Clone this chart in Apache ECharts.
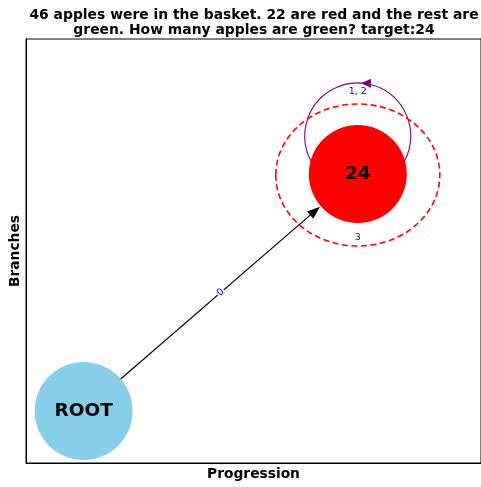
<!DOCTYPE html>
<html>
<head>
<meta charset="utf-8">
<script src="https://cdn.jsdelivr.net/npm/echarts@6/dist/echarts.min.js"></script>
<style>html,body{margin:0;padding:0;background:#fff}#c{width:481px;height:487px}</style>
</head>
<body>
<div id="c"></div>
<script>
// ---- data ----
const titleLines = ['46 apples were in the basket. 22 are red and the rest are', 'green. How many apples are green? target:24'];
const nodeNames = ['ROOT', '24'];
const nodeX = [0, 1];
const nodeY = [0, 1];
const edgeSource = [0];
const edgeTarget = [1];
const edgeLabels = ['0'];
const loopNodes = [1];
const loopLabels = ['1, 2'];
const ringNodes = [1];
const ringLabels = ['3'];
const xAxisName = 'Progression';
const yAxisName = 'Branches';

// ---- styles ----
const nodeColors = ['#87CEEB', '#FF0000'];
const NODE_R = 49;
const FONT = 'DejaVu Sans';

const chart = echarts.init(document.getElementById('c'), null, {renderer: 'canvas'});

const edgeData = edgeSource.map((s, i) => [nodeX[s], nodeY[s], nodeX[edgeTarget[i]], nodeY[edgeTarget[i]], i]);
const loopData = loopNodes.map((n, i) => [nodeX[n], nodeY[n], i]);
const ringData = ringNodes.map((n, i) => [nodeX[n], nodeY[n], i]);

function renderEdge(params, api) {
  const p0 = api.coord([api.value(0), api.value(1)]);
  const p1 = api.coord([api.value(2), api.value(3)]);
  const i = api.value(4);
  const dx = p1[0] - p0[0], dy = p1[1] - p0[1];
  const L = Math.sqrt(dx * dx + dy * dy);
  const ux = dx / L, uy = dy / L;
  const start = [p0[0] + ux * NODE_R, p0[1] + uy * NODE_R];
  const tip = [p1[0] - ux * (NODE_R + 1), p1[1] - uy * (NODE_R + 1)];
  const AL = 13, AW = 4.8;
  const base = [tip[0] - ux * AL, tip[1] - uy * AL];
  const px = -uy, py = ux;
  const mid = [(p0[0] + p1[0]) / 2, (p0[1] + p1[1]) / 2];
  return {
    type: 'group',
    children: [
      {type: 'line', shape: {x1: start[0], y1: start[1], x2: base[0] + ux * 2, y2: base[1] + uy * 2}, style: {stroke: '#000', lineWidth: 1.2}},
      {type: 'polygon', shape: {points: [tip, [base[0] + px * AW, base[1] + py * AW], [base[0] - px * AW, base[1] - py * AW]]}, style: {fill: '#000'}},
      {type: 'text', x: mid[0], y: mid[1], rotation: Math.atan2(-dy, dx),
        style: {text: edgeLabels[i], fill: '#0000ff', font: '9.5px "' + FONT + '"', align: 'center', verticalAlign: 'middle', backgroundColor: '#fff', padding: [0, 1]}}
    ]
  };
}

function renderLoop(params, api) {
  const c = api.coord([api.value(0), api.value(1)]);
  const i = api.value(2);
  const cx = c[0], cy = c[1] - 38, r = 53;
  const ang = -85.5 * Math.PI / 180;
  const tip = [cx + r * Math.cos(ang), cy + r * Math.sin(ang)];
  return {
    type: 'group',
    children: [
      {type: 'arc', shape: {cx: cx, cy: cy, r: r, startAngle: 150 * Math.PI / 180, endAngle: 390 * Math.PI / 180, clockwise: true}, style: {stroke: '#800080', lineWidth: 1.1, fill: null}},
      {type: 'polygon', shape: {points: [[tip[0] - 1, tip[1]], [tip[0] + 9, tip[1] - 4.5], [tip[0] + 9, tip[1] + 4.5]]}, style: {fill: '#800080'}},
      {type: 'text', x: c[0], y: c[1] - 82, style: {text: loopLabels[i], fill: '#0000ff', font: '9.5px "' + FONT + '"', align: 'center', verticalAlign: 'middle'}}
    ]
  };
}

function renderRing(params, api) {
  const c = api.coord([api.value(0), api.value(1)]);
  const i = api.value(2);
  return {
    type: 'group',
    children: [
      {type: 'ellipse', shape: {cx: c[0], cy: c[1] + 1, rx: 82, ry: 71}, style: {stroke: '#ff0000', lineWidth: 1.6, lineDash: [6, 3.5], fill: null}},
      {type: 'text', x: c[0], y: c[1] + 64, style: {text: ringLabels[i], fill: '#0000ff', font: '9.5px "' + FONT + '"', align: 'center', verticalAlign: 'middle'}}
    ]
  };
}

const option = {
  backgroundColor: '#fff',
  animation: false,
  graphic: titleLines.map((t, k) => ({
    type: 'text', x: 254, y: 15.5 + k * 15,
    style: {text: t, fill: '#000', font: 'bold 13.9px "' + FONT + '"', align: 'center', verticalAlign: 'middle'}
  })),
  grid: {left: 25, top: 39, width: 458, height: 424, show: true, borderColor: '#000', borderWidth: 1, backgroundColor: 'transparent'},
  xAxis: {
    type: 'value', min: -0.2101, max: 1.4493,
    name: xAxisName, nameLocation: 'middle', nameGap: 4,
    nameTextStyle: {fontFamily: FONT, fontWeight: 'bold', fontSize: 13.8, color: '#000', verticalAlign: 'top'},
    axisLine: {show: true, onZero: false, lineStyle: {color: '#000'}}, axisTick: {show: false}, axisLabel: {show: false}, splitLine: {show: false}
  },
  yAxis: {
    type: 'value', min: -0.2194, max: 1.5696,
    name: yAxisName, nameLocation: 'middle', nameGap: 4,
    nameTextStyle: {fontFamily: FONT, fontWeight: 'bold', fontSize: 13.8, color: '#000', verticalAlign: 'bottom'},
    axisLine: {show: true, onZero: false, lineStyle: {color: '#000'}}, axisTick: {show: false}, axisLabel: {show: false}, splitLine: {show: false}
  },
  series: [
    {type: 'custom', z: 1, data: loopData, renderItem: renderLoop, silent: true},
    {type: 'custom', z: 2, data: edgeData, renderItem: renderEdge, silent: true},
    {
      type: 'scatter', z: 3, symbol: 'circle', symbolSize: NODE_R * 2,
      data: nodeNames.map((n, i) => ({name: n, value: [nodeX[i], nodeY[i]], itemStyle: {color: nodeColors[i], opacity: 1}})),
      label: {show: true, position: 'inside', formatter: '{b}', fontFamily: FONT, fontWeight: 'bold', fontSize: 18.5, color: '#000'},
      emphasis: {disabled: true}
    },
    {type: 'custom', z: 4, data: ringData, renderItem: renderRing, silent: true}
  ]
};
chart.setOption(option);
</script>
</body>
</html>
